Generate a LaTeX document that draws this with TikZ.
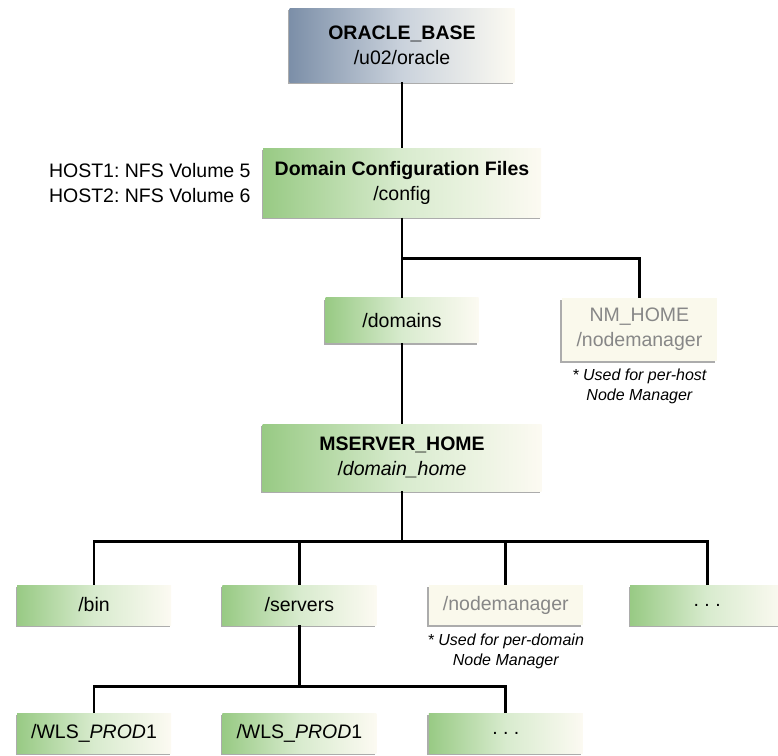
\documentclass[tikz,border=0pt]{standalone}
\usepackage{fontspec}
\setmainfont{Liberation Sans}
\usetikzlibrary{positioning,shadows}
\definecolor{dirgreen}{RGB}{152,202,132}
\definecolor{dirmid}{RGB}{216,235,206}
\definecolor{dircream}{RGB}{252,250,242}
\definecolor{baseblue}{RGB}{124,143,168}
\definecolor{basemid}{RGB}{202,210,220}
\definecolor{nmfill}{RGB}{250,249,236}
\definecolor{nmtext}{RGB}{135,135,135}
\frenchspacing

\begin{document}
\begin{tikzpicture}[
        x=1pt, y=1pt,
        font=\fontsize{19.5}{25}\selectfont,
        dirbox/.style={rectangle, align=center, inner sep=2pt,
            drop shadow={shadow xshift=-1.5pt, shadow yshift=-2pt, opacity=0.65}},
        greenbox/.style={dirbox, left color=dirgreen, right color=dircream, middle color=dirmid},
        bluebox/.style={dirbox, left color=baseblue, right color=dircream, middle color=basemid},
        palebox/.style={dirbox, fill=nmfill, text=nmtext},
        leaf/.style={minimum width=154pt, minimum height=40pt},
        link/.style={line width=2.7pt},
        note/.style={font=\fontsize{16}{20}\selectfont\itshape, align=center}
    ]
        \useasboundingbox (0,0) rectangle (778,-755);

        % Nodes
        \node[bluebox, minimum width=225pt, minimum height=74pt] (base) at (402,-45) {\textbf{ORACLE\_BASE}\\/u02/oracle};
        \node[greenbox, minimum width=278pt, minimum height=69pt, below=66pt of base] (config) {\textbf{Domain Configuration Files}\\/config};
        \node[left=12pt of config, align=right, inner sep=0pt] (hosts) {HOST1: NFS Volume 5\\HOST2: NFS Volume 6};

        \node[greenbox, minimum width=153pt, minimum height=45pt, below=80pt of config] (domains) {/domains};
        \node[palebox, minimum width=155pt, minimum height=63pt, anchor=north west] (nmhome) at ([xshift=83pt]domains.north east) {NM\_HOME\\/nodemanager};
        \node[note, below=4pt of nmhome] (nmnote) {* Used for per-host\\Node Manager};

        \node[greenbox, minimum width=279pt, minimum height=67pt, below=81pt of domains] (mserver) {\textbf{MSERVER\_HOME}\\/\textit{domain\_home}};

        % Second level
        \node[greenbox, leaf] (bin) at (94,-605) {/bin};
        \node[greenbox, leaf, right=51pt of bin] (servers) {/servers};
        \node[palebox, leaf, right=52pt of servers] (nodemgr) {/nodemanager};
        \node[greenbox, leaf, right=47pt of nodemgr] (more) {. . .};
        \node[note, below=5pt of nodemgr] (nodenote) {* Used for per-domain\\Node Manager};

        % Server directories
        \node[greenbox, leaf, below=88pt of bin] (wls1) {/WLS\_\textit{PROD}1};
        \node[greenbox, leaf, below=88pt of servers] (wls2) {/WLS\_\textit{PROD}1};
        \node[greenbox, leaf, below=88pt of nodemgr] (wlsmore) {. . .};

        % Junctions
        \coordinate[below=41pt of config] (cfgjoin);
        \coordinate[below=50pt of mserver] (msjoin);
        \coordinate[below=61pt of servers] (svjoin);

        % Connectors
        \draw[link] (base) -- (config);
        \draw[link] (config) -- (domains);
        \draw[link] (cfgjoin) -| (nmhome.north);
        \draw[link] (domains) -- (mserver);
        \draw[link] (mserver) -- (msjoin);
        \foreach \sub in {bin,servers,nodemgr,more}
            \draw[link] (msjoin) -| (\sub.north);
        \draw[link] (servers) -- (svjoin);
        \foreach \sub in {wls1,wlsmore}
            \draw[link] (svjoin) -| (\sub.north);

    \end{tikzpicture}
\end{document}
